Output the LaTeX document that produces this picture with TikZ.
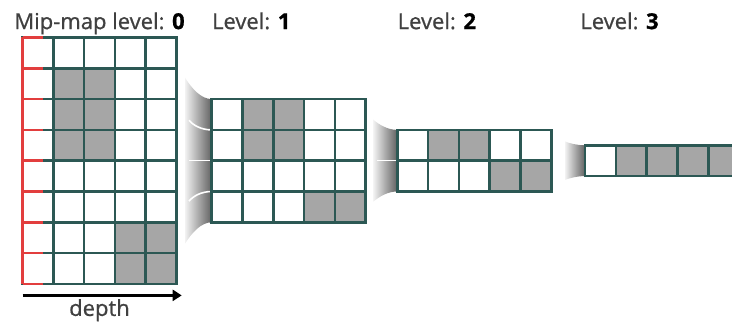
\documentclass[tikz,border=0pt]{standalone}
\usepackage{fontspec}
\setmainfont{Open Sans}
\newfontfamily\lblfont[FakeBold=0.8]{Open Sans}
\usepackage{xcolor}
\usepackage{tikz}
\usetikzlibrary{arrows.meta,positioning,calc}

\definecolor{gridteal}{RGB}{44,88,84}
\definecolor{mipred}{RGB}{226,62,62}
\definecolor{cellgray}{RGB}{166,166,166}

\begin{document}
\begin{tikzpicture}[
    x=1pt, y=1pt,
    level/.style={rectangle, inner sep=0, outer sep=0, minimum width=77pt},
    lbl/.style={inner sep=0, font=\lblfont\fontsize{11}{13}\selectfont, text=black!75},
    cellfill/.style={fill=cellgray},
    gridline/.style={draw=gridteal, line width=1.3pt},
    redline/.style={draw=mipred, line width=1.3pt},
    funnel/.style={left color=black!5, right color=black!62},
    divider/.style={draw=white, line width=0.8pt},
    arr/.style={-{Triangle[length=4.5pt,width=5.5pt]}, line width=1.4pt},
  ]
    \useasboundingbox (0,0) rectangle (366,162.5);

    % Levels
    \node[level, minimum height=123.2pt] (lv0) at (49.75,82.15) {};
    \node[level, minimum height=61.6pt, right=17.6pt of lv0] (lv1) {};
    \node[level, minimum height=30.8pt, right=15.8pt of lv1] (lv2) {};
    \node[level, minimum height=15.4pt, right=16.85pt of lv2] (lv3) {};

    % Funnels between levels
    \foreach \nd/\w/\hr/\hl/\n in {lv1/13.35/30.8/41.5/4, lv2/12/15.4/20.5/2, lv3/10/7.7/9.6/1}{
      \begin{scope}[shift={(\nd.west)}]
        \shade[funnel] (-\w,\hl) .. controls ({-0.75*\w},{\hr+0.5*(\hl-\hr)}) and ({-0.4*\w},\hr) .. (0,\hr)
          -- (0,-\hr) .. controls ({-0.4*\w},-\hr) and ({-0.75*\w},{-\hr-0.5*(\hl-\hr)}) .. (-\w,-\hl) -- cycle;
        \pgfmathtruncatemacro{\m}{\n-1}
        \ifnum\n>1
          \foreach \k in {1,...,\m}{
            \pgfmathsetmacro{\f}{1-2*\k/\n}
            \draw[divider] ({-0.85*\w},{\f*(\hl-0.1*(\hl-\hr))}) .. controls ({-0.7*\w},{\f*(\hr+0.45*(\hl-\hr))}) and ({-0.4*\w},{\f*\hr}) .. (0,{\f*\hr});
          }
        \fi
      \end{scope}
    }

    % Gray cells (column/row from top left)
    \foreach \c/\r in {1/1,2/1,1/2,2/2,1/3,2/3,3/6,4/6,3/7,4/7}
      \fill[cellfill] ([xshift=\c*15.4pt, yshift=-\r*15.4pt]lv0.north west) rectangle +(15.4,-15.4);
    \foreach \c/\r in {1/0,2/0,1/1,2/1,3/3,4/3}
      \fill[cellfill] ([xshift=\c*15.4pt, yshift=-\r*15.4pt]lv1.north west) rectangle +(15.4,-15.4);
    \foreach \c/\r in {1/0,2/0,3/1,4/1}
      \fill[cellfill] ([xshift=\c*15.4pt, yshift=-\r*15.4pt]lv2.north west) rectangle +(15.4,-15.4);
    \foreach \c in {1,...,4}
      \fill[cellfill] ([xshift=\c*15.4pt]lv3.north west) rectangle +(15.4,-15.4);

    % Grid lines
    \foreach \nd/\rows in {lv0/8, lv1/4, lv2/2, lv3/1}{
      \foreach \c in {1,...,4}
        \draw[gridline] ([xshift=\c*15.4pt]\nd.south west) -- ([xshift=\c*15.4pt]\nd.north west);
      \ifnum\rows>1
        \pgfmathtruncatemacro{\rr}{\rows-1}
        \foreach \r in {1,...,\rr}
          \draw[gridline] ([yshift=\r*15.4pt]\nd.south west) -- ([yshift=\r*15.4pt]\nd.south east);
      \fi
      \draw[gridline] (\nd.south west) rectangle (\nd.north east);
    }

    % Red edge of level 0
    \draw[redline] (lv0.north west) -- (lv0.south west);
    \foreach \r in {0,...,8}
      \draw[redline] ([yshift=\r*15.4pt]lv0.south west) -- ++(10,0);

    % Labels
    \node[lbl, anchor=base] (t0) at ([yshift=4.2pt]lv0.north) {Mip-map level: \textcolor{black}{\textbf{0}}};
    \node[lbl, anchor=base west] (t1) at (lv1.west |- t0.base) {Level: \textcolor{black}{\textbf{1}}};
    \node[lbl, anchor=base west] (t2) at (lv2.west |- t0.base) {Level: \textcolor{black}{\textbf{2}}};
    \node[lbl, anchor=base west, xshift=-2.5pt] (t3) at (lv3.west |- t0.base) {Level: \textcolor{black}{\textbf{3}}};

    % Depth arrow
    \coordinate (d0) at ([yshift=-5.75pt]lv0.south west);
    \coordinate (d1) at ([xshift=2.6pt, yshift=-5.75pt]lv0.south east);
    \draw[arr] (d0) -- (d1);
    \node[lbl, anchor=base] (dep) at ([yshift=-16pt]lv0.south) {depth};
  \end{tikzpicture}
\end{document}
